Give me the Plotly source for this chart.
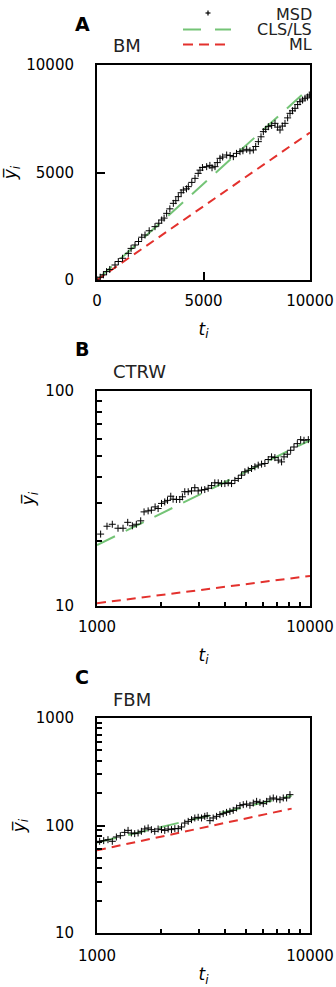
import plotly.graph_objects as go

# ---------------- Panel A: BM (linear axes) ----------------
bm_t = [0, 150, 300, 450, 600, 845, 1000, 1200, 1470, 1600, 1784, 1950, 2100, 2254,
        2450, 2723, 2900, 3036, 3150, 3270, 3420, 3583, 3700, 3818, 3950, 4053, 4200,
        4288, 4450, 4601, 4750, 4836, 4950, 5149, 5300, 5400, 5540, 5650, 5775, 5900,
        6088, 6250, 6401, 6550, 6714, 6850, 7027, 7180, 7340, 7450, 7575, 7700, 7809,
        7920, 8044, 8200, 8357, 8480, 8592, 8700, 8826, 8950, 9061, 9180, 9296, 9420,
        9531, 9650, 9765, 9880, 9967]
bm_msd = [0, 130, 240, 390, 490, 698, 860, 1010, 1240, 1470, 1628, 1790, 1990, 2093,
          2290, 2481, 2640, 2790, 2880, 3100, 3310, 3566, 3690, 3876, 4060, 4186, 4240,
          4341, 4540, 4729, 4960, 5110, 5230, 5271, 5330, 5220, 5271, 5460, 5659, 5720,
          5814, 5790, 5736, 5890, 5969, 6010, 6078, 6010, 6047, 6210, 6434, 6660, 6899,
          7010, 7132, 7190, 7287, 7110, 6977, 7160, 7287, 7540, 7752, 7870, 7985, 8160,
          8295, 8370, 8450, 8510, 8605]
bm_fit_t = [0, 10000]
bm_cls = [0, 8950]
bm_ml = [0, 6860]

# ---------------- Panel B: CTRW (log axes) ----------------
ctrw_t = [1040, 1114, 1180, 1255, 1325, 1394, 1466, 1530, 1604, 1663, 1738, 1800, 1874,
          1936, 2008, 2080, 2143, 2220, 2276, 2360, 2447, 2518, 2583, 2680, 2778, 2879,
          2985, 3096, 3206, 3325, 3450, 3574, 3708, 3845, 3984, 4130, 4283, 4440, 4604,
          4772, 4946, 5128, 5316, 5512, 5713, 5924, 6140, 6366, 6600, 6842, 7093, 7355,
          7550, 7826, 8114, 8410, 8720, 9040, 9371, 9820]
ctrw_msd = [21.6, 23.5, 24.0, 23.0, 23.0, 24.5, 23.6, 24.0, 24.9, 27.4, 27.7, 27.9, 28.9,
            28.4, 30.0, 30.5, 31.0, 32.4, 31.4, 31.3, 31.3, 32.2, 34.0, 34.0, 34.3, 35.5,
            34.3, 34.6, 34.8, 35.3, 36.3, 37.4, 37.4, 37.1, 37.1, 37.4, 37.1, 38.4, 39.2,
            40.6, 42.1, 42.8, 43.6, 44.4, 45.2, 45.7, 46.0, 48.0, 49.4, 49.0, 47.7, 46.8,
            49.4, 50.8, 53.0, 54.9, 56.9, 59.4, 59.0, 59.4]
ctrw_fit_t = [1000, 10000]
ctrw_cls = [19.2, 59.0]
ctrw_ml = [10.3, 13.8]

# ---------------- Panel C: FBM (log axes) ----------------
fbm_t = [1029, 1075, 1126, 1180, 1233, 1287, 1349, 1399, 1450, 1503, 1559, 1616, 1676,
         1738, 1800, 1867, 1936, 2008, 2080, 2158, 2237, 2320, 2406, 2494, 2583, 2680,
         2778, 2879, 2985, 3096, 3206, 3290, 3390, 3511, 3643, 3776, 3913, 4058, 4207,
         4360, 4522, 4690, 4860, 5040, 5224, 5416, 5615, 5821, 6035, 6257, 6487, 6724,
         6970, 7227, 7491, 7766, 8052]
fbm_msd = [71.3, 72.3, 73.8, 71.3, 78.2, 80.4, 86.3, 90.1, 85.2, 84.0, 85.2, 88.3, 92.8,
           94.8, 91.5, 88.3, 92.8, 91.5, 90.1, 92.8, 91.5, 93.5, 93.5, 96.9, 105.4, 109.3,
           113.3, 117.5, 119.2, 117.5, 121.7, 123.4, 110.9, 117.5, 121.7, 126.2, 128.9,
           132.5, 135.4, 138.4, 145.5, 152.9, 156.3, 158.5, 154.3, 161.9, 167.8, 164.2,
           159.6, 167.8, 176.3, 180.3, 176.3, 173.8, 180.3, 180.3, 193.6]
fbm_fit_t = [1000, 8200]
fbm_cls = [69.5, 189.0]
fbm_ml = [58.7, 143.5]

# tick labels
lin_ticks = [0, 5000, 10000]
lin_ticktext = ["0", "5000", "10000"]
logx_ticks = [1000, 10000]
logx_ticktext = ["1000", "10000"]
logx_minor = [2000, 3000, 4000, 5000, 6000, 7000, 8000, 9000]
logyB_ticks = [10, 100]
logyB_ticktext = ["10", "100"]
logyB_minor = [20, 30, 40, 50, 60, 70, 80, 90]
logyC_ticks = [10, 100, 1000]
logyC_ticktext = ["10", "100", "1000"]
logyC_minor = [20, 30, 40, 50, 60, 70, 80, 90, 200, 300, 400, 500, 600, 700, 800, 900]

W, H = 336, 987
FONT = "DejaVu Sans"
GREEN = "#74c476"
RED = "#e3312d"

fig = go.Figure()


def add_panel(xa, ya, t, msd, ft, cls, ml):
    fig.add_trace(go.Scatter(x=ft, y=cls, mode="lines", name="CLS/LS",
                             line=dict(color=GREEN, width=2, dash="20px,12px"),
                             xaxis=xa, yaxis=ya, showlegend=False))
    fig.add_trace(go.Scatter(x=ft, y=ml, mode="lines", name="ML",
                             line=dict(color=RED, width=2, dash="9px,6px"),
                             xaxis=xa, yaxis=ya, showlegend=False))
    fig.add_trace(go.Scatter(x=t, y=msd, mode="markers", name="MSD",
                             marker=dict(symbol="cross-thin", size=5, color="black",
                                         line=dict(width=1, color="black")),
                             xaxis=xa, yaxis=ya, showlegend=False))


add_panel("x", "y", bm_t, bm_msd, bm_fit_t, bm_cls, bm_ml)
add_panel("x2", "y2", ctrw_t, ctrw_msd, ctrw_fit_t, ctrw_cls, ctrw_ml)
add_panel("x3", "y3", fbm_t, fbm_msd, fbm_fit_t, fbm_cls, fbm_ml)

xdom = [97 / W, 310 / W]


def ydom(top, bottom):
    return [1 - bottom / H, 1 - top / H]


common = dict(showline=True, linewidth=2, linecolor="black", mirror=True,
              showgrid=False, zeroline=False, ticks="inside", tickcolor="black",
              tickwidth=1.5, ticklen=8, automargin=False,
              tickfont=dict(family=FONT, size=15, color="black"))
xtitle = dict(text="<i>t</i><sub><i>i</i></sub>", font=dict(family=FONT, size=17, color="black"),
              standoff=14)
ytitle = dict(text="<i>y\u0305</i><sub><i>i</i></sub>", font=dict(family=FONT, size=17, color="black"),
              standoff=6)

fig.update_layout(
    width=W, height=H, margin=dict(l=0, r=0, t=0, b=0, autoexpand=False),
    paper_bgcolor="white", plot_bgcolor="white",
    font=dict(family=FONT, color="black"),
    xaxis=dict(domain=xdom, anchor="y", range=[0, 10000], tickvals=lin_ticks,
               ticktext=lin_ticktext, ticklabelstandoff=6, title=xtitle, **common),
    yaxis=dict(domain=ydom(65, 280), anchor="x", range=[0, 10000], tickvals=lin_ticks,
               ticktext=lin_ticktext, ticklabelstandoff=18, title=ytitle, **common),
    xaxis2=dict(domain=xdom, anchor="y2", type="log", range=[3, 4], tickvals=logx_ticks,
                ticktext=logx_ticktext, ticklabelstandoff=6, title=xtitle,
                minor=dict(tickvals=logx_minor, ticks="inside", ticklen=4, tickwidth=1.5,
                           tickcolor="black", showgrid=False), **common),
    yaxis2=dict(domain=ydom(391, 606), anchor="x2", type="log", range=[1, 2],
                tickvals=logyB_ticks, ticktext=logyB_ticktext, ticklabelstandoff=18, title=ytitle,
                minor=dict(tickvals=logyB_minor, ticks="inside", ticklen=5, tickwidth=1.5,
                           tickcolor="black", showgrid=False), **common),
    xaxis3=dict(domain=xdom, anchor="y3", type="log", range=[3, 4], tickvals=logx_ticks,
                ticktext=logx_ticktext, ticklabelstandoff=8, title=xtitle,
                minor=dict(tickvals=logx_minor, ticks="inside", ticklen=4, tickwidth=1.5,
                           tickcolor="black", showgrid=False), **common),
    yaxis3=dict(domain=ydom(718, 933), anchor="x3", type="log", range=[1, 3],
                tickvals=logyC_ticks, ticktext=logyC_ticktext, ticklabelstandoff=18, title=ytitle,
                minor=dict(tickvals=logyC_minor, ticks="inside", ticklen=5, tickwidth=1.5,
                           tickcolor="black", showgrid=False), **common),
)


def py(px):
    return 1 - px / H


def pxx(px):
    return px / W


anns = []
for letter, ly, title, ty in [("A", 24, "BM", 45), ("B", 349, "CTRW", 372), ("C", 677, "FBM", 699)]:
    anns.append(dict(x=pxx(82), y=py(ly), xref="paper", yref="paper", text="<b>%s</b>" % letter,
                     showarrow=False, xanchor="center", yanchor="middle",
                     font=dict(family=FONT, size=19, color="black")))
    anns.append(dict(x=pxx(111), y=py(ty), xref="paper", yref="paper", text=title,
                     showarrow=False, xanchor="left", yanchor="middle",
                     font=dict(family=FONT, size=18, color="#222")))

legend_names = ["MSD", "CLS/LS", "ML"]
legend_y = [14, 29.5, 44.5]
for name, ly in zip(legend_names, legend_y):
    anns.append(dict(x=pxx(314), y=py(ly), xref="paper", yref="paper", text=name,
                     showarrow=False, xanchor="right", yanchor="middle",
                     font=dict(family=FONT, size=16, color="#222")))
fig.update_layout(annotations=anns)

shapes = [
    dict(type="line", xref="paper", yref="paper", x0=pxx(183), x1=pxx(231),
         y0=py(29.5), y1=py(29.5), line=dict(color=GREEN, width=2, dash="18px,14px")),
    dict(type="line", xref="paper", yref="paper", x0=pxx(183), x1=pxx(231),
         y0=py(44.5), y1=py(44.5), line=dict(color=RED, width=2, dash="10px,6px")),
    dict(type="line", xref="paper", yref="paper", x0=pxx(205.5), x1=pxx(210.5),
         y0=py(13), y1=py(13), line=dict(color="black", width=1.2)),
    dict(type="line", xref="paper", yref="paper", x0=pxx(208), x1=pxx(208),
         y0=py(10.5), y1=py(15.5), line=dict(color="black", width=1.2)),
]
fig.update_layout(shapes=shapes)

fig.write_html("out.html")
